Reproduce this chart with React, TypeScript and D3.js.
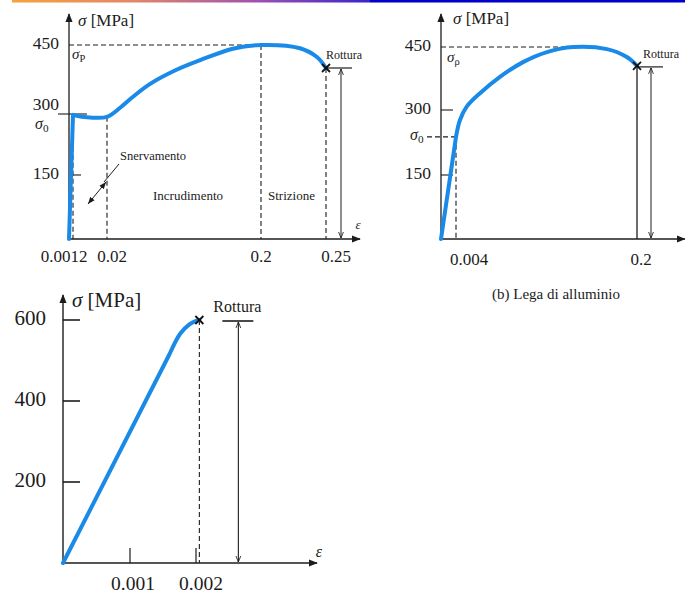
import * as d3 from "d3";

// (a) acciaio
const steelStrain = [0, 0.0012, 0.006, 0.012, 0.02, 0.035, 0.05, 0.07, 0.1, 0.129, 0.167, 0.2, 0.23, 0.243, 0.25];
const steelStress = [0, 298, 293, 291, 293, 313, 337, 365, 395, 417, 442, 450, 443, 424, 400];
const steelTicksX = [0.0012, 0.02, 0.2, 0.25];
const steelTickLabels = ["0.0012", "0.02", "0.2", "0.25"];
const steelTicksY = [150, 300, 450];

// (b) lega di alluminio
const alStrain = [0, 0.004, 0.0083, 0.0156, 0.03, 0.0516, 0.0766, 0.1025, 0.131, 0.1675, 0.189, 0.2];
const alStress = [0, 238, 277, 308, 340, 379, 414, 438, 450, 445, 426, 405];
const alTicksX = [0.004, 0.2];
const alTickLabels = ["0.004", "0.2"];
const alTicksY = [150, 300, 450];

// (c) materiale fragile
const glassStrain = [0, 0.0016, 0.00176, 0.0019, 0.002, 0.00205];
const glassStress = [0, 516, 566, 589, 598, 600];
const glassTicksX = [0.001, 0.002];
const glassTickLabels = ["0.001", "0.002"];
const glassTicksY = [200, 400, 600];

const FONT = "'Liberation Serif', 'Times New Roman', serif";
const INK = "#1c1c1c";
const BLUE = "#1a8ae8";

// straight first segment (elastic part), the rest smoothed
function curvePath(xs: number[], ys: number[], x: any, y: any) {
  const pts: [number, number][] = xs.map((v, i) => [x(v), y(ys[i])]);
  const rest = d3.line().curve(d3.curveCatmullRom.alpha(0.5))(pts.slice(1)) || "";
  return `M${pts[0][0]},${pts[0][1]}L${rest.slice(1)}`;
}

function Cross({ cx, cy }: { cx: number; cy: number }) {
  const s = 4;
  return (
    <g stroke="#111" strokeWidth={1.8}>
      <line x1={cx - s} y1={cy - s} x2={cx + s} y2={cy + s} />
      <line x1={cx - s} y1={cy + s} x2={cx + s} y2={cy - s} />
    </g>
  );
}

function Sigma({ x, y, sub, size, anchor = "start" }: { x: number; y: number; sub: string; size: number; anchor?: string }) {
  return (
    <text x={x} y={y} fontSize={size} fontFamily={FONT} fill={INK} textAnchor={anchor} dominantBaseline="middle">
      <tspan fontStyle="italic">σ</tspan>
      <tspan fontSize={size * 0.7} dy={size * 0.28}>{sub}</tspan>
    </text>
  );
}

function App() {
  // scales (schematic axes, piecewise)
  const x1 = d3.scaleLinear().domain([0, 0.0012, 0.02, 0.2, 0.25, 0.282]).range([69, 73, 107, 261, 326, 360]);
  const y1 = d3.scaleLinear().domain([0, 150, 300, 450, 520]).range([239, 175, 114, 45, 14]);

  const x2 = d3.scaleLinear().domain([0, 0.004, 0.2, 0.226]).range([441, 456, 637, 685]);
  const y2 = d3.scaleLinear().domain([0, 150, 300, 450, 520]).range([239, 175, 110, 47, 14]);

  const x3 = d3.scaleLinear().domain([0, 0.001, 0.002, 0.0038]).range([63, 130, 196, 317]);
  const y3 = d3.scaleLinear().domain([0, 600, 660]).range([563, 320, 295]);

  const steelRot: [number, number] = [x1(0.25), y1(400)];
  const alRot: [number, number] = [x2(0.2), y2(405)];
  const glassRot: [number, number] = [x3(0.00205), y3(600)];

  return (
    <svg width={685} height={599} style={{ position: "absolute", left: 0, top: 0, background: "#fff" }}>
      <defs>
        <linearGradient id="bar" x1="0" x2="1" y1="0" y2="0">
          <stop offset="0" stopColor="#f7a23a" />
          <stop offset="0.35" stopColor="#e0866a" />
          <stop offset="0.7" stopColor="#9a4fb4" />
          <stop offset="1" stopColor="#3a22cc" />
        </linearGradient>
        <marker id="axArrow" viewBox="0 0 10 10" refX="9" refY="5" markerWidth="9" markerHeight="9" markerUnits="userSpaceOnUse" orient="auto">
          <path d="M0,1 L10,5 L0,9 Z" fill={INK} />
        </marker>
        <marker id="dimArrow" viewBox="0 0 10 10" refX="10" refY="5" markerWidth="6" markerHeight="6" markerUnits="userSpaceOnUse" orient="auto-start-reverse">
          <path d="M0,1 L10,5 L0,9" fill="none" stroke={INK} strokeWidth={1.4} />
        </marker>
        <marker id="smallArrow" viewBox="0 0 10 10" refX="10" refY="5" markerWidth="7" markerHeight="7" markerUnits="userSpaceOnUse" orient="auto-start-reverse">
          <path d="M0,1 L10,5 L0,9 Z" fill={INK} />
        </marker>
      </defs>

      {/* top decorative bar */}
      <rect x={12} y={0} width={358} height={2.5} fill="url(#bar)" />
      <rect x={370} y={0} width={315} height={2.5} fill="#0000c8" />

      {/* ================= chart (a) ================= */}
      <g fontFamily={FONT} fill={INK}>
        {/* dashed guides */}
        <g stroke={INK} strokeWidth={1.1} strokeDasharray="5,3" fill="none">
          <line x1={x1(0)} y1={y1(450)} x2={x1(0.2)} y2={y1(450)} />
          <line x1={x1(0.0012)} y1={y1(298)} x2={x1(0.0012)} y2={y1(0)} />
          <line x1={x1(0.02)} y1={y1(293)} x2={x1(0.02)} y2={y1(0)} />
          <line x1={x1(0.2)} y1={y1(450)} x2={x1(0.2)} y2={y1(0)} />
          <line x1={x1(0.25)} y1={y1(400)} x2={x1(0.25)} y2={y1(0)} />
        </g>
        {/* axes */}
        <line x1={x1(0)} y1={y1(0)} x2={x1(0)} y2={y1(520)} stroke={INK} strokeWidth={1.3} markerEnd="url(#axArrow)" />
        <line x1={x1(0)} y1={y1(0)} x2={x1(0.282)} y2={y1(0)} stroke={INK} strokeWidth={1.3} markerEnd="url(#axArrow)" />
        {/* y ticks */}
        <line x1={58} y1={y1(300)} x2={87} y2={y1(300)} stroke={INK} strokeWidth={1.1} />
        <line x1={x1(0)} y1={y1(150)} x2={x1(0) + 12} y2={y1(150)} stroke={INK} strokeWidth={1.1} />
        {steelTicksY.map((v) => (
          <text key={v} x={59} y={v === 300 ? y1(v) - 8 : y1(v)} fontSize={17.5} textAnchor="end" dominantBaseline="middle">
            {v}
          </text>
        ))}
        <Sigma x={35} y={y1(300) + 11} sub="0" size={16} />
        <Sigma x={72} y={y1(450) + 11} sub="P" size={15} />
        {steelTicksX.map((v, i) => (
          <text key={v} x={x1(v) + [-9, 5, 0, 10][i]} y={258} fontSize={17} textAnchor="middle" dominantBaseline="middle">
            {steelTickLabels[i]}
          </text>
        ))}
        <text x={78} y={22} fontSize={17} dominantBaseline="middle">
          <tspan fontStyle="italic">σ</tspan> [MPa]
        </text>
        <text x={358} y={226} fontSize={13} fontStyle="italic" textAnchor="middle" dominantBaseline="middle">ε</text>

        {/* region labels */}
        <text x={120} y={157} fontSize={12.5} dominantBaseline="middle">Snervamento</text>
        <text x={153} y={197} fontSize={13} dominantBaseline="middle">Incrudimento</text>
        <text x={268} y={197} fontSize={13} dominantBaseline="middle">Strizione</text>
        <line x1={119} y1={164} x2={104} y2={182} stroke={INK} strokeWidth={1} />
        <line x1={106} y1={182} x2={88} y2={204} stroke={INK} strokeWidth={1} markerStart="url(#smallArrow)" markerEnd="url(#smallArrow)" />

        {/* curve */}
        <path d={curvePath(steelStrain, steelStress, x1, y1)} fill="none" stroke={BLUE} strokeWidth={4} strokeLinecap="round" strokeLinejoin="round" />

        {/* rottura */}
        <line x1={steelRot[0]} y1={steelRot[1]} x2={steelRot[0] + 26} y2={steelRot[1]} stroke={INK} strokeWidth={1.2} />
        <line x1={steelRot[0] + 15} y1={steelRot[1] + 1} x2={steelRot[0] + 15} y2={y1(0) - 1} stroke={INK} strokeWidth={1} markerStart="url(#dimArrow)" markerEnd="url(#dimArrow)" />
        <Cross cx={steelRot[0]} cy={steelRot[1]} />
        <text x={steelRot[0]} y={steelRot[1] - 12} fontSize={12} dominantBaseline="middle" fill="#222">Rottura</text>
      </g>

      {/* ================= chart (b) ================= */}
      <g fontFamily={FONT} fill={INK}>
        <g stroke={INK} strokeWidth={1.1} strokeDasharray="5,3" fill="none">
          <line x1={x2(0)} y1={y2(450)} x2={x2(0.131)} y2={y2(450)} />
          <line x1={427} y1={y2(238)} x2={x2(0.004)} y2={y2(238)} />
          <line x1={x2(0.004)} y1={y2(238)} x2={x2(0.004)} y2={y2(0)} />
        </g>
        <line x1={x2(0.2)} y1={alRot[1]} x2={x2(0.2)} y2={y2(0)} stroke={INK} strokeWidth={1.3} />
        <line x1={x2(0)} y1={y2(0)} x2={x2(0)} y2={y2(520)} stroke={INK} strokeWidth={1.3} markerEnd="url(#axArrow)" />
        <line x1={x2(0)} y1={y2(0)} x2={685} y2={y2(0)} stroke={INK} strokeWidth={1.3} markerEnd="url(#axArrow)" />
        <line x1={x2(0)} y1={y2(300)} x2={x2(0) + 12} y2={y2(300)} stroke={INK} strokeWidth={1.1} />
        <line x1={x2(0)} y1={y2(150)} x2={x2(0) + 12} y2={y2(150)} stroke={INK} strokeWidth={1.1} />
        {alTicksY.map((v) => (
          <text key={v} x={431} y={y2(v)} fontSize={17.5} textAnchor="end" dominantBaseline="middle">
            {v}
          </text>
        ))}
        <Sigma x={410} y={y2(238) - 1} sub="0" size={16} />
        <Sigma x={447} y={y2(450) + 12} sub="ρ" size={15} />
        {alTicksX.map((v, i) => (
          <text key={v} x={x2(v) + [13, 4][i]} y={261} fontSize={17} textAnchor="middle" dominantBaseline="middle">
            {alTickLabels[i]}
          </text>
        ))}
        <text x={453} y={20} fontSize={17} dominantBaseline="middle">
          <tspan fontStyle="italic">σ</tspan> [MPa]
        </text>
        <text x={556} y={296} fontSize={15} textAnchor="middle" dominantBaseline="middle">(b) Lega di alluminio</text>

        <path d={curvePath(alStrain, alStress, x2, y2)} fill="none" stroke={BLUE} strokeWidth={4} strokeLinecap="round" strokeLinejoin="round" />

        <line x1={alRot[0]} y1={alRot[1] + 1} x2={alRot[0] + 26} y2={alRot[1] + 1} stroke={INK} strokeWidth={1.2} />
        <line x1={alRot[0] + 14} y1={alRot[1] + 2} x2={alRot[0] + 14} y2={y2(0) - 1} stroke={INK} strokeWidth={1} markerStart="url(#dimArrow)" markerEnd="url(#dimArrow)" />
        <Cross cx={alRot[0]} cy={alRot[1]} />
        <text x={alRot[0] + 6} y={alRot[1] - 11} fontSize={12} dominantBaseline="middle" fill="#222">Rottura</text>
      </g>

      {/* ================= chart (c) ================= */}
      <g fontFamily={FONT} fill={INK}>
        <line x1={glassRot[0]} y1={glassRot[1]} x2={glassRot[0]} y2={y3(0)} stroke={INK} strokeWidth={1.1} strokeDasharray="5,3" />
        <line x1={x3(0)} y1={y3(0)} x2={x3(0)} y2={y3(660)} stroke={INK} strokeWidth={1.4} markerEnd="url(#axArrow)" />
        <line x1={x3(0)} y1={y3(0)} x2={x3(0.0038)} y2={y3(0)} stroke={INK} strokeWidth={1.4} markerEnd="url(#axArrow)" />
        {glassTicksY.map((v) => (
          <g key={v}>
            <line x1={x3(0)} y1={y3(v)} x2={x3(0) + 17} y2={y3(v)} stroke={INK} strokeWidth={1.6} />
            <text x={46} y={y3(v)} fontSize={21} textAnchor="end" dominantBaseline="middle">
              {v}
            </text>
          </g>
        ))}
        {glassTicksX.map((v, i) => (
          <g key={v}>
            <line x1={x3(v)} y1={y3(0)} x2={x3(v)} y2={y3(0) - 15} stroke={INK} strokeWidth={1.2} />
            <text x={x3(v) + [3, 5][i]} y={586} fontSize={19.5} textAnchor="middle" dominantBaseline="middle">
              {glassTickLabels[i]}
            </text>
          </g>
        ))}
        <text x={72} y={302} fontSize={21} dominantBaseline="middle">
          <tspan fontStyle="italic">σ</tspan> [MPa]
        </text>
        <text x={319} y={553} fontSize={16} fontStyle="italic" textAnchor="middle" dominantBaseline="middle">ε</text>

        <path d={curvePath(glassStrain, glassStress, x3, y3)} fill="none" stroke={BLUE} strokeWidth={4} strokeLinecap="round" strokeLinejoin="round" />

        <line x1={glassRot[0] + 23} y1={glassRot[1] + 1} x2={glassRot[0] + 54} y2={glassRot[1] + 1} stroke={INK} strokeWidth={1.6} />
        <line x1={glassRot[0] + 39} y1={glassRot[1] + 2} x2={glassRot[0] + 39} y2={y3(0) - 1} stroke={INK} strokeWidth={1.1} markerStart="url(#dimArrow)" markerEnd="url(#dimArrow)" />
        <Cross cx={glassRot[0]} cy={glassRot[1]} />
        <text x={glassRot[0] + 14} y={glassRot[1] - 12} fontSize={16} dominantBaseline="middle">Rottura</text>
      </g>
    </svg>
  );
}

export default App;
